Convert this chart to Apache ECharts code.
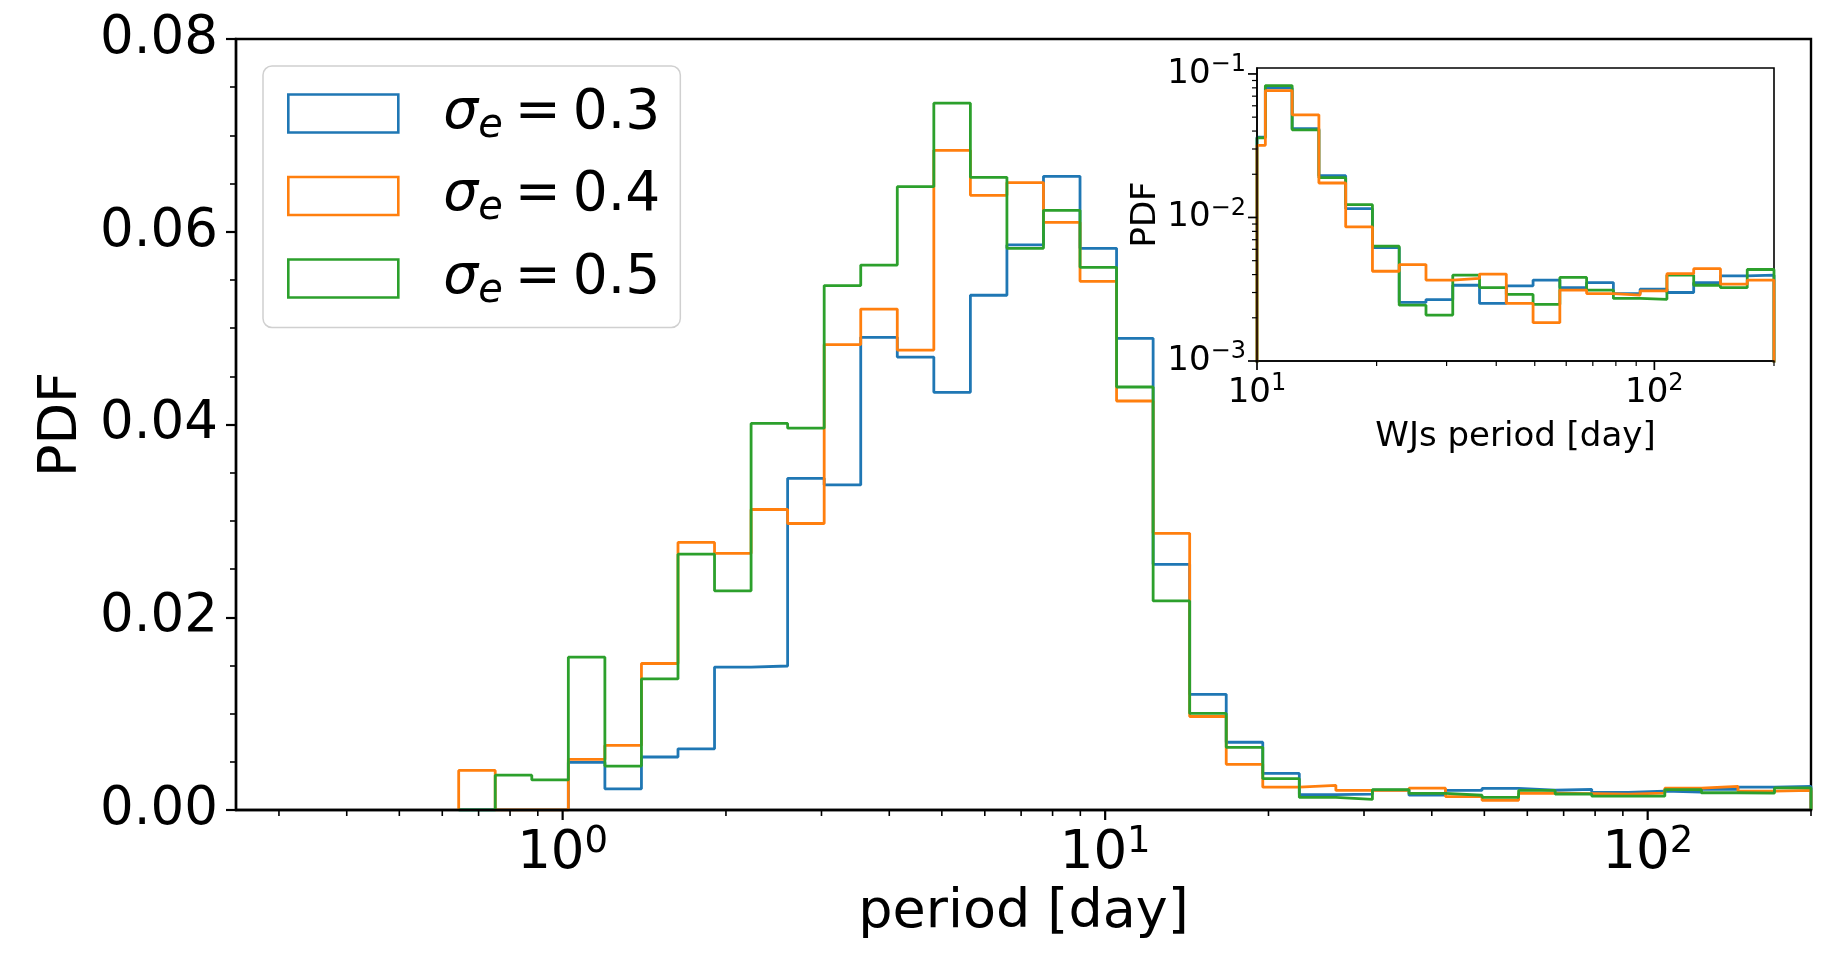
<!DOCTYPE html>
<html>
<head>
<meta charset="utf-8">
<title>period PDF</title>
<script src="https://cdn.jsdelivr.net/npm/echarts@6.0.0/dist/echarts.min.js"></script>
<style>
html, body { margin: 0; padding: 0; background: #fff; }
#chart { width: 1848px; height: 977px; }
</style>
</head>
<body>
<div id="chart"></div>
<script>
// log-spaced bin edges [day] (only the part that holds counts)
var binEdges = [0.6433, 0.7512, 0.8773, 1.0245, 1.1964, 1.3972, 1.6317, 1.9054, 2.2252, 2.5985,
  3.0346, 3.5438, 4.1384, 4.8328, 5.6438, 6.5907, 7.6967, 8.9882, 10.496, 12.258,
  14.314, 16.717, 19.522, 22.797, 26.623, 31.090, 36.307, 42.400, 49.515, 57.823,
  67.526, 78.857, 92.089, 107.54, 125.59, 146.66, 171.27, 200.0];

var pdf03 = [0, 0, 0, 0.00494, 0.0022, 0.0055, 0.00635, 0.01483, 0.01494, 0.03441,
  0.03373, 0.04905, 0.0470, 0.04334, 0.05341, 0.05863, 0.06575, 0.05828, 0.04894, 0.02549,
  0.0120, 0.00703, 0.0038, 0.0016, 0.00164, 0.00207, 0.00154, 0.00204, 0.00225, 0.00205,
  0.00215, 0.00183, 0.00195, 0.00185, 0.00214, 0.00238, 0.00245];
var pdf04 = [0.00411, 0, 0, 0.00525, 0.0067, 0.0152, 0.02776, 0.02662, 0.03118, 0.02973,
  0.04829, 0.05198, 0.04772, 0.06845, 0.06378, 0.0651, 0.06098, 0.05486, 0.04244, 0.02871,
  0.0097, 0.00474, 0.00237, 0.00256, 0.00203, 0.00205, 0.00226, 0.00139, 0.00101, 0.00174,
  0.0017, 0.00165, 0.00175, 0.00226, 0.00246, 0.00196, 0.00203];
var pdf05 = [0, 0.00361, 0.00312, 0.01586, 0.00456, 0.0136, 0.02654, 0.02274, 0.04011, 0.03962,
  0.05441, 0.05654, 0.06468, 0.07334, 0.06565, 0.05828, 0.06222, 0.05631, 0.04389, 0.02169,
  0.01002, 0.0065, 0.00325, 0.0013, 0.0011, 0.00212, 0.00172, 0.00153, 0.00131, 0.00203,
  0.00166, 0.00144, 0.00143, 0.00212, 0.00179, 0.00175, 0.00229];

// inset: warm jupiters only, P > 10 day
var wjEdges = [10, 10.496, 12.258, 14.314, 16.717, 19.522, 22.797, 26.623, 31.090, 36.307,
  42.400, 49.515, 57.823, 67.526, 78.857, 92.089, 107.54, 125.59, 146.66, 171.27, 200.0];
var wj03 = [0.0363, 0.0799, 0.0415, 0.01954, 0.01151, 0.00617, 0.00256, 0.00268, 0.00337, 0.00252,
  0.00334, 0.00366, 0.00325, 0.00352, 0.00295, 0.00317, 0.0030, 0.00351, 0.00392, 0.00396];
var wj04 = [0.0318, 0.0766, 0.0519, 0.01738, 0.00859, 0.00422, 0.0047, 0.00366, 0.00376, 0.00403,
  0.00252, 0.00185, 0.00312, 0.00295, 0.00288, 0.00308, 0.00406, 0.0044, 0.00343, 0.00366];
var wj05 = [0.0358, 0.0830, 0.0408, 0.01892, 0.01228, 0.00631, 0.00245, 0.00209, 0.00396, 0.00325,
  0.00291, 0.00248, 0.00382, 0.00312, 0.00273, 0.00269, 0.00396, 0.00337, 0.00324, 0.00434];

var sigmas = ['0.3', '0.4', '0.5'];
var colors = ['#1f77b4', '#ff7f0e', '#2ca02c'];

// tick positions
var mainMajorX = [1, 10, 100];
var mainMinorX = [0.3, 0.4, 0.5, 0.6, 0.7, 0.8, 0.9, 2, 3, 4, 5, 6, 7, 8, 9,
  20, 30, 40, 50, 60, 70, 80, 90, 200];
var insetMajorX = [10, 100];
var insetMinorX = [20, 30, 40, 50, 60, 70, 80, 90, 200];
var insetMajorY = [0.001, 0.01, 0.1];
var insetMinorY = [0.002, 0.003, 0.004, 0.005, 0.006, 0.007, 0.008, 0.009,
  0.02, 0.03, 0.04, 0.05, 0.06, 0.07, 0.08, 0.09];

var FONT = 'DejaVu Sans';

function histLine(edges, values, base) {
  var pts = [[edges[0], base]];
  for (var i = 0; i < values.length; i++) {
    pts.push([edges[i], values[i] > 0 ? values[i] : base]);
  }
  pts.push([edges[edges.length - 1], base]);
  return pts;
}

function histSeries(name, color, pts, idx) {
  return {
    type: 'line', name: name, step: 'end', data: pts,
    xAxisIndex: idx, yAxisIndex: idx,
    symbol: 'none', showSymbol: false, clip: true,
    lineStyle: {color: color, width: 2.8},
    itemStyle: {color: color},
    emphasis: {disabled: true}
  };
}

function tickSeries(idx, values, fixed, dir, len, width) {
  var data = values.map(function (v) { return dir === 'x' ? [v, fixed] : [fixed, v]; });
  return {
    type: 'custom', xAxisIndex: idx, yAxisIndex: idx, data: data, silent: true, z: 5,
    encode: {x: 0, y: 1},
    renderItem: function (params, api) {
      var p = api.coord([api.value(0), api.value(1)]);
      var shape = dir === 'x'
        ? {x1: p[0], y1: p[1], x2: p[0], y2: p[1] + len}
        : {x1: p[0], y1: p[1], x2: p[0] - len, y2: p[1]};
      return {type: 'line', shape: shape, style: {stroke: '#000', lineWidth: width}};
    }
  };
}

function powLabel(v) {
  var e = Math.log10(v), r = Math.round(e);
  if (Math.abs(e - r) > 1e-4) return '';
  return '{b|10}{p|' + (r < 0 ? '\u2212' + (-r) : r) + '}';
}

function powRich(big, small, lift) {
  return {
    b: {fontFamily: FONT, fontSize: big, color: '#000'},
    p: {fontFamily: FONT, fontSize: small, color: '#000', padding: [0, 0, lift, 0]}
  };
}

var chart = echarts.init(document.getElementById('chart'));

var series = [];
[pdf03, pdf04, pdf05].forEach(function (vals, i) {
  series.push(histSeries(sigmas[i], colors[i], histLine(binEdges, vals, 0), 0));
});
// inset: orange drawn last
[[wj03, 0], [wj05, 2], [wj04, 1]].forEach(function (d) {
  series.push(histSeries('wj' + sigmas[d[1]], colors[d[1]], histLine(wjEdges, d[0], 1e-6), 1));
});
series.push(tickSeries(0, mainMajorX, 0, 'x', 10, 2.2));
series.push(tickSeries(0, mainMinorX, 0, 'x', 6, 1.6));
series.push(tickSeries(1, insetMajorX, 0.001, 'x', 9, 1.7));
series.push(tickSeries(1, insetMinorX, 0.001, 'x', 5, 1.2));
series.push(tickSeries(1, insetMajorY, 10, 'y', 9, 1.7));
series.push(tickSeries(1, insetMinorY, 10, 'y', 5, 1.2));

var option = {
  backgroundColor: '#fff',
  animation: false,
  textStyle: {fontFamily: FONT},
  grid: [
    {left: 236, top: 39, right: 37, bottom: 167, show: true,
      borderColor: '#000', borderWidth: 2.4, backgroundColor: 'transparent'},
    {left: 1257, top: 68, right: 74, bottom: 616, show: true,
      borderColor: '#000', borderWidth: 1.6, backgroundColor: '#fff'}
  ],
  legend: {
    data: sigmas.map(function (s, i) {
      return {name: s, icon: 'rect',
        itemStyle: {color: 'rgba(0,0,0,0)', borderColor: colors[i], borderWidth: 2.6}};
    }),
    orient: 'vertical', left: 263, top: 66,
    itemWidth: 110, itemHeight: 38, itemGap: 22,
    padding: [20, 20, 16, 24],
    backgroundColor: 'rgba(255,255,255,0.8)',
    borderColor: '#d0d0d0', borderWidth: 1.5, borderRadius: 9,
    selectedMode: false,
    formatter: function (name) {
      return '{s|\u03c3}{e|e}{q|=}{t|' + name + '}';
    },
    textStyle: {
      rich: {
        s: {fontFamily: FONT, fontSize: 55, fontStyle: 'italic', color: '#000', padding: [0, 0, 0, 40]},
        e: {fontFamily: FONT, fontSize: 40, fontStyle: 'italic', color: '#000', padding: [26, 0, 0, 0]},
        q: {fontFamily: FONT, fontSize: 55, color: '#000', padding: [0, 12, 0, 12]},
        t: {fontFamily: FONT, fontSize: 55, color: '#000'}
      }
    }
  },
  xAxis: [
    {type: 'log', gridIndex: 0, min: 0.25, max: 200, logBase: 10, z: 5,
      name: 'period [day]', nameLocation: 'middle', nameGap: 74,
      nameTextStyle: {fontFamily: FONT, fontSize: 54, color: '#000'},
      axisLine: {show: true, lineStyle: {color: '#000', width: 2.4}},
      axisTick: {show: false}, splitLine: {show: false},
      axisLabel: {formatter: powLabel, margin: 14, rich: powRich(53, 37, 24)}},
    {type: 'log', gridIndex: 1, min: 10, max: 200, logBase: 10, z: 5,
      name: 'WJs period [day]', nameLocation: 'middle', nameGap: 59,
      nameTextStyle: {fontFamily: FONT, fontSize: 34, color: '#000'},
      axisLine: {show: true, lineStyle: {color: '#000', width: 1.6}},
      axisTick: {show: false}, splitLine: {show: false},
      axisLabel: {formatter: powLabel, margin: 11, rich: powRich(34, 24, 18)}}
  ],
  yAxis: [
    {type: 'value', gridIndex: 0, min: 0, max: 0.08, interval: 0.02, z: 5,
      name: 'PDF', nameLocation: 'middle', nameGap: 141,
      nameTextStyle: {fontFamily: FONT, fontSize: 54, color: '#000'},
      axisLine: {show: true, lineStyle: {color: '#000', width: 2.4}},
      axisTick: {show: true, length: 10, lineStyle: {color: '#000', width: 2.2}},
      minorTick: {show: true, splitNumber: 4, length: 6, lineStyle: {color: '#000', width: 1.6}},
      splitLine: {show: false}, minorSplitLine: {show: false},
      axisLabel: {margin: 18, fontFamily: FONT, fontSize: 53, color: '#000',
        formatter: function (v) { return v.toFixed(2); }}},
    {type: 'log', gridIndex: 1, min: 0.001, max: 0.11, logBase: 10, z: 5,
      name: 'PDF', nameLocation: 'middle', nameGap: 93,
      nameTextStyle: {fontFamily: FONT, fontSize: 34, color: '#000'},
      axisLine: {show: true, lineStyle: {color: '#000', width: 1.6}},
      axisTick: {show: false}, splitLine: {show: false},
      axisLabel: {formatter: powLabel, margin: 11, rich: powRich(34, 24, 18)}}
  ],
  series: series
};

chart.setOption(option);
</script>
</body>
</html>
